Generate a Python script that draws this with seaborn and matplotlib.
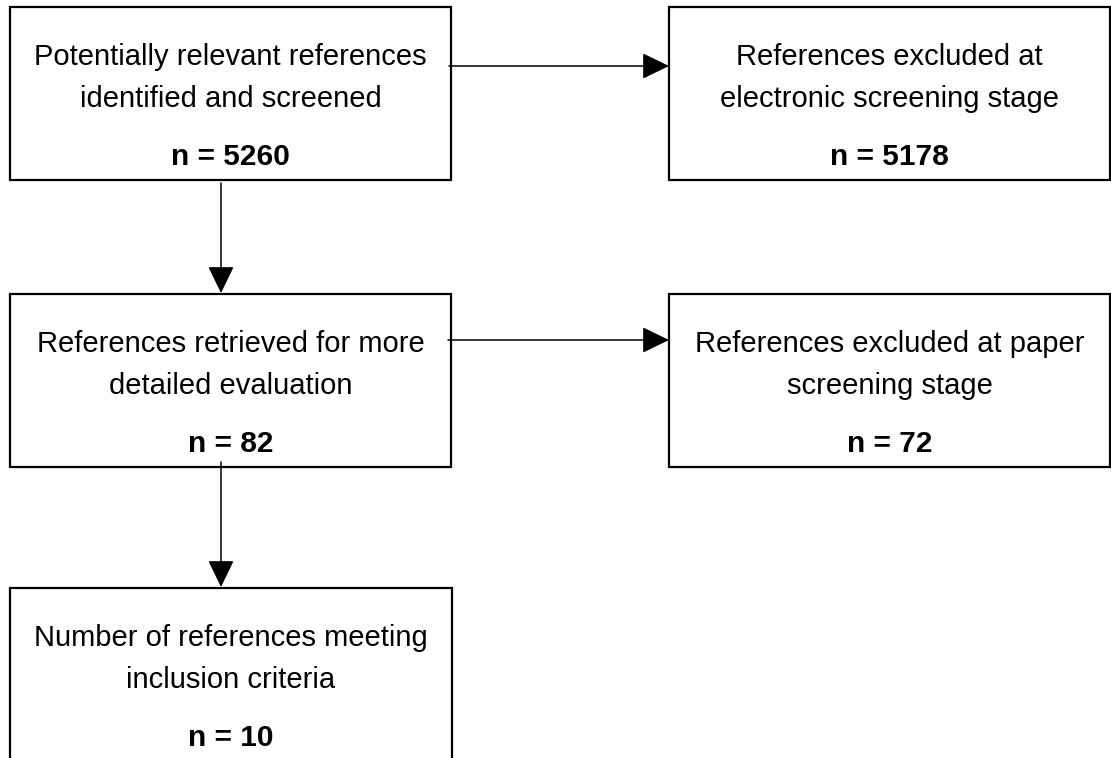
import matplotlib
matplotlib.use("Agg")
import matplotlib.pyplot as plt
from matplotlib.patches import Rectangle
import seaborn as sns

# flowchart content
stages = [
    ["Potentially relevant references", "identified and screened"],
    ["References excluded at", "electronic screening stage"],
    ["References retrieved for more", "detailed evaluation"],
    ["References excluded at paper", "screening stage"],
    ["Number of references meeting", "inclusion criteria"],
]
counts = [5260, 5178, 82, 72, 10]

# layout in pixel units (x left, y top, width, height)
boxes = [
    (10, 7, 441, 173),
    (669, 7, 441, 173),
    (10, 294, 441, 173),
    (669, 294, 441, 173),
    (10, 588, 442, 230),
]
# arrows: (x_start, y_start, x_end, y_end)
links = [
    (449, 66, 669, 66),
    (221, 183, 221, 293),
    (448, 340, 669, 340),
    (221, 462, 221, 587),
]

sns.set_theme(style="white")
plt.rcParams['font.family'] = ['Liberation Sans Narrow', 'Liberation Sans', 'DejaVu Sans']

fig = plt.figure(figsize=(11.11, 7.58), dpi=100)
ax = fig.add_axes([0, 0, 1, 1])
ax.set_xlim(0, 1111)
ax.set_ylim(758, 0)
ax.axis('off')

for (x, y, w, h), lines, n in zip(boxes, stages, counts):
    ax.add_patch(Rectangle((x, y), w, h, facecolor='white', edgecolor='black', lw=1.6))
    cx = x + w / 2
    ax.text(cx, y + 58, lines[0], ha='center', va='baseline', fontsize=21, color='black')
    ax.text(cx, y + 100, lines[1], ha='center', va='baseline', fontsize=21, color='black')
    ax.text(cx, y + 158, f"n = {n}", ha='center', va='baseline', fontsize=21.5,
            fontweight='bold', color='black')

for x0, y0, x1, y1 in links:
    ax.annotate('', xy=(x1, y1), xytext=(x0, y0),
                arrowprops=dict(arrowstyle='-|>,head_length=1.4,head_width=0.68',
                                lw=1.1, color='black', shrinkA=0, shrinkB=0))

fig.savefig("out.png", dpi=100)
